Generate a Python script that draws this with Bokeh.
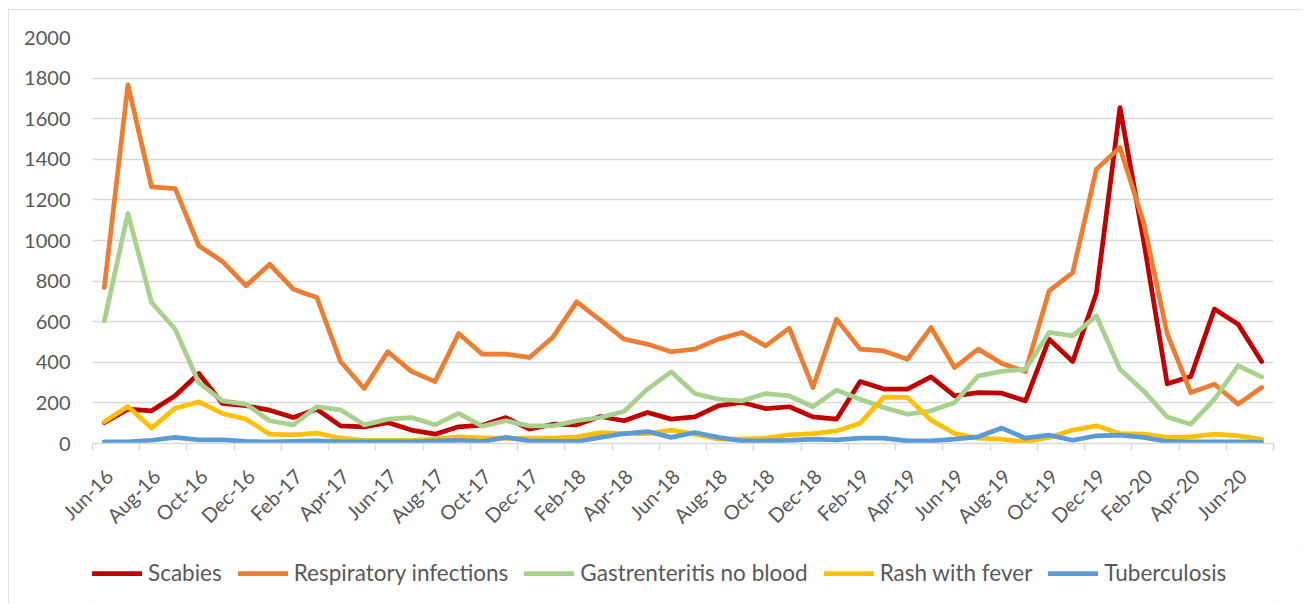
import math
from bokeh.plotting import figure
from bokeh.layouts import row, column
from bokeh.models import FixedTicker, Legend, LegendItem, Spacer
from bokeh.embed import file_html
from bokeh.resources import INLINE

months = ["Jun-16", "Jul-16", "Aug-16", "Sep-16", "Oct-16", "Nov-16", "Dec-16", "Jan-17",
          "Feb-17", "Mar-17", "Apr-17", "May-17", "Jun-17", "Jul-17", "Aug-17", "Sep-17",
          "Oct-17", "Nov-17", "Dec-17", "Jan-18", "Feb-18", "Mar-18", "Apr-18", "May-18",
          "Jun-18", "Jul-18", "Aug-18", "Sep-18", "Oct-18", "Nov-18", "Dec-18", "Jan-19",
          "Feb-19", "Mar-19", "Apr-19", "May-19", "Jun-19", "Jul-19", "Aug-19", "Sep-19",
          "Oct-19", "Nov-19", "Dec-19", "Jan-20", "Feb-20", "Mar-20", "Apr-20", "May-20",
          "Jun-20", "Jul-20"]

scabies = [103, 169, 161, 235, 345, 197, 186, 164, 128, 169, 87, 82, 103, 66, 46, 82,
           90, 128, 71, 95, 92, 133, 112, 153, 120, 131, 186, 202, 172, 181, 131, 120, 305,
           268, 268, 328, 235, 251, 248, 210, 514, 404, 740, 1655, 1000, 294, 330, 662, 588, 404]

respiratory = [768, 1767, 1264, 1256, 974, 897, 777, 883, 760, 719, 404, 271, 452, 355, 305, 542,
               440, 440, 424, 525, 698, 608, 514, 489, 452, 465, 514, 547, 481, 568, 276, 612, 465,
               456, 415, 571, 374, 465, 394, 355, 752, 842, 1351, 1458, 1089, 540, 251, 292, 194, 276]

gastro = [604, 1133, 695, 563, 300, 210, 194, 112, 92, 181, 166, 92, 120, 128, 92, 148,
          85, 112, 87, 87, 112, 128, 158, 268, 353, 246, 218, 210, 246, 235, 181, 263, 218,
          177, 144, 161, 202, 333, 355, 366, 547, 530, 629, 366, 259, 131, 95, 218, 383, 328]

rash = [107, 182, 76, 174, 205, 148, 120, 46, 43, 51, 26, 16, 16, 16, 21, 33,
        28, 25, 26, 26, 33, 54, 49, 49, 66, 46, 21, 21, 26, 43, 49, 62, 100,
        228, 227, 115, 49, 26, 21, 8, 30, 66, 87, 49, 46, 30, 33, 46, 38, 21]

tb = [8, 8, 16, 30, 18, 18, 10, 8, 10, 13, 8, 8, 8, 8, 13, 16,
      10, 30, 13, 10, 10, 30, 49, 59, 30, 54, 30, 13, 13, 16, 21, 18, 26,
      26, 13, 13, 21, 33, 76, 26, 41, 16, 38, 41, 30, 10, 8, 8, 8, 5]

series_names = ["Scabies", "Respiratory infections", "Gastrenteritis no blood",
                "Rash with fever", "Tuberculosis"]
series_colors = ["#C00000", "#ED7D31", "#A9D18E", "#FFC000", "#5B9BD5"]
y_ticks = [0, 200, 400, 600, 800, 1000, 1200, 1400, 1600, 1800, 2000]

FONT = "Lato"
TEXT_COLOR = "#595959"
GRID_COLOR = "#d9d9d9"
LW = 4.75

x = list(range(len(months)))
n = len(months)

# ---- main chart ----
p = figure(width=1294, height=541, output_backend="svg", toolbar_location=None,
           x_range=(-0.5, n - 0.5), y_range=(0, 2000),
           min_border_left=84, min_border_right=29, min_border_top=28, min_border_bottom=107)
p.outline_line_color = None
p.background_fill_color = "white"
p.border_fill_color = "white"

p.yaxis.ticker = FixedTicker(ticks=y_ticks)
p.yaxis.axis_line_color = None
p.yaxis.major_tick_line_color = None
p.yaxis.major_tick_out = 0
p.yaxis.minor_tick_line_color = None
p.yaxis.major_label_standoff = 22
p.yaxis.major_label_text_font = FONT
p.yaxis.major_label_text_font_size = "20px"
p.yaxis.major_label_text_color = TEXT_COLOR
p.ygrid.grid_line_color = GRID_COLOR
p.ygrid.grid_line_width = 1.3
p.xgrid.grid_line_color = None

label_idx = x[::2]
label_pos = [i + 0.2 for i in label_idx]
p.xaxis.ticker = FixedTicker(ticks=label_pos, minor_ticks=[i - 0.5 for i in label_idx] + [n - 0.5])
p.xaxis.major_label_overrides = {pos: months[i] for pos, i in zip(label_pos, label_idx)}
p.xaxis.major_label_orientation = math.pi / 4
p.xaxis.major_tick_line_color = None
p.xaxis.major_tick_out = 0
p.xaxis.major_tick_in = 0
p.xaxis.minor_tick_line_color = GRID_COLOR
p.xaxis.minor_tick_line_width = 1.3
p.xaxis.minor_tick_in = 0
p.xaxis.minor_tick_out = 7
p.xaxis.axis_line_color = GRID_COLOR
p.xaxis.axis_line_width = 1.3
p.xaxis.major_label_standoff = 22
p.xaxis.major_label_text_font = FONT
p.xaxis.major_label_text_font_size = "20px"
p.xaxis.major_label_text_color = TEXT_COLOR

for vals, col in zip([scabies, respiratory, gastro, rash, tb], series_colors):
    p.line(x, vals, line_color=col, line_width=LW, line_join="round", line_cap="round")

# ---- legend strip (legend keys only) ----
p2 = figure(width=1294, height=54, output_backend="svg", toolbar_location=None,
            x_range=(0, 1), y_range=(0, 1), min_border=0,
            x_axis_location=None, y_axis_location=None)
p2.grid.grid_line_color = None
p2.outline_line_color = None
p2.background_fill_color = "white"
p2.border_fill_color = "white"

keys = []
for name, col in zip(series_names, series_colors):
    r = p2.line([0.5], [float("nan")], line_color=col, line_width=LW, line_cap="round")
    keys.append(LegendItem(label=name, renderers=[r]))

leg = Legend(items=keys, location=(0, 18), orientation="horizontal",
             padding=0, margin=0, spacing=16,
             glyph_width=50, glyph_height=20, label_height=20, label_standoff=6,
             label_text_font=FONT, label_text_font_size="22.5px",
             label_text_color=TEXT_COLOR, background_fill_alpha=0,
             border_line_alpha=0)
p2.add_layout(leg)

chart = column(p, p2, styles={"outline": "1px solid #d9d9d9", "outline-offset": "-1px"})
layout = row(Spacer(width=8), column(Spacer(height=9), chart))
open("out.html", "w").write(file_html(layout, INLINE))
